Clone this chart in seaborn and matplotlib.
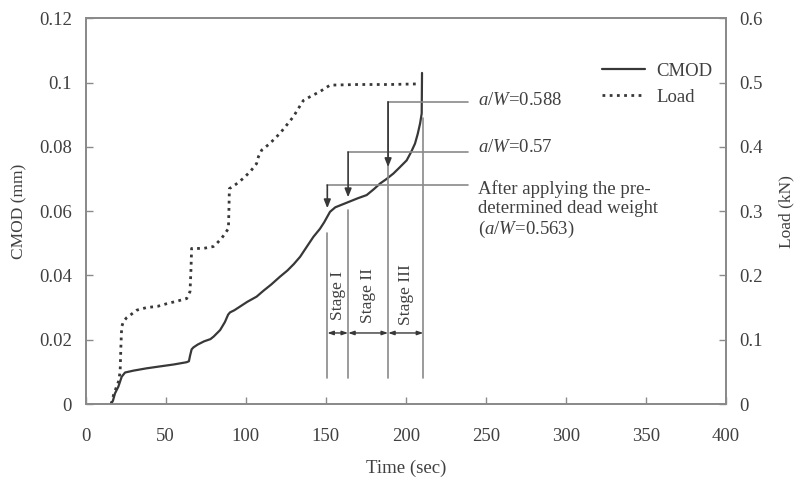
import numpy as np
import pandas as pd
import seaborn as sns
import matplotlib.pyplot as plt
from matplotlib.lines import Line2D

# CMOD curve (mm)
cmod_t = [15.5, 17, 18.3, 20.4, 21.5, 22.5, 24.6, 30, 38, 45, 55, 63, 64.5, 65.2, 66.2, 67.3,
          70, 74, 78, 80, 84, 87, 89, 90.2, 93, 97, 101, 106.8, 111, 116, 121.4, 126, 130,
          134, 138, 142.3, 146.4, 149, 152.7, 156, 160, 164, 170, 175.6, 180, 184, 188,
          192.3, 196, 200.6, 203.5, 205.8, 207.5, 209, 210, 210.2]
cmod_mm = [0, 0.001, 0.0033, 0.0054, 0.007, 0.0085, 0.0098, 0.0104, 0.0111, 0.0116, 0.0123,
           0.0130, 0.0133, 0.0150, 0.0170, 0.0176, 0.0185, 0.0195, 0.0202, 0.021, 0.023,
           0.0255, 0.0278, 0.0285, 0.0292, 0.0305, 0.0318, 0.0334, 0.0352, 0.0372, 0.0396,
           0.0415, 0.0435, 0.0458, 0.0488, 0.052, 0.0545, 0.0565, 0.0598, 0.0612, 0.062,
           0.0628, 0.0640, 0.0650, 0.0668, 0.0686, 0.070, 0.0717, 0.0735, 0.0758, 0.0785,
           0.081, 0.0840, 0.0873, 0.0904, 0.103]

# Load curve (kN)
load_t = [16, 17.5, 19, 20.5, 21.5, 22, 22.5, 23.5, 25.5, 27.7, 31.9, 38, 45, 50.6, 57, 63.1,
          65.2, 65.8, 66.2, 70, 73.5, 79.8, 82, 85, 87, 89.2, 89.5, 89.8, 94, 98.5, 103,
          106.8, 108, 110, 115, 121.4, 125, 129.8, 133, 136, 140.2, 146.4, 152.7, 170, 190, 209]
load_kn = [0, 0.015, 0.025, 0.035, 0.05, 0.09, 0.12, 0.128, 0.134, 0.138, 0.146, 0.150, 0.152,
           0.156, 0.160, 0.164, 0.175, 0.21, 0.242, 0.242, 0.242, 0.245, 0.25, 0.258, 0.265,
           0.273, 0.30, 0.335, 0.342, 0.351, 0.362, 0.374, 0.385, 0.395, 0.405, 0.421, 0.432,
           0.447, 0.46, 0.472, 0.478, 0.486, 0.496, 0.497, 0.497, 0.498]

# stage boundaries (sec) and annotation labels
stage_t = [151, 164, 189, 211]
stage_names = ['Stage I', 'Stage II', 'Stage III']
aw_labels = ['After applying the pre-\ndetermined dead weight\n($a/W$=0.563)',
             '$a/W$=0.57', '$a/W$=0.588']
aw_level = [0.0681, 0.0784, 0.094]      # height of the leader lines
aw_text_y = [0.0603, 0.0797, 0.0945]
aw_tip = [0.0609, 0.0643, 0.0737]       # arrow tips just above the curve
stage_top = [0.0531, 0.0603, 0.094, 0.089]

sns.set_style('white')
plt.rcParams['font.family'] = ['Liberation Serif', 'DejaVu Serif']
plt.rcParams['mathtext.fontset'] = 'custom'
plt.rcParams['mathtext.it'] = 'Liberation Serif:italic'
plt.rcParams['mathtext.rm'] = 'Liberation Serif'

txt = '#404040'
grey = '#8a8a8a'
ink = '#383838'

fig = plt.figure(figsize=(7.98, 4.8), dpi=100)
ax = fig.add_axes([0.1074, 0.1583, 0.802, 0.8036])
ax2 = ax.twinx()

df_c = pd.DataFrame({'t': cmod_t, 'v': cmod_mm})
df_l = pd.DataFrame({'t': load_t, 'v': load_kn})
sns.lineplot(data=df_c, x='t', y='v', ax=ax, estimator=None, sort=False,
             color=ink, lw=1.6)
sns.lineplot(data=df_l, x='t', y='v', ax=ax2, estimator=None, sort=False,
             color=ink, lw=2.0, linestyle=(0, (1, 1.6)))

ax.set_xlim(0, 400)
ax.set_ylim(0, 0.12)
ax2.set_ylim(0, 0.6)
ax.set_xticks(np.arange(0, 401, 50))
ax.set_yticks([0, 0.02, 0.04, 0.06, 0.08, 0.1, 0.12])
ax.set_yticklabels(['0', '0.02', '0.04', '0.06', '0.08', '0.1', '0.12'])
ax2.set_yticks([0, 0.1, 0.2, 0.3, 0.4, 0.5, 0.6])
ax2.set_yticklabels(['0', '0.1', '0.2', '0.3', '0.4', '0.5', '0.6'])

fs = 13.5
for a in (ax, ax2):
    for s in a.spines.values():
        s.set_color(grey)
        s.set_linewidth(1.3)
    a.tick_params(direction='in', length=5, width=1, color=grey,
                  labelsize=fs, labelcolor=txt, pad=10)
ax.tick_params(axis='y', left=True, right=False)
ax.tick_params(axis='x', bottom=True, pad=17)
ax2.tick_params(axis='y', right=True, left=False)

ax.set_xlabel('Time (sec)', fontsize=fs, color=txt, labelpad=11)
ax.set_ylabel('CMOD (mm)', fontsize=12.5, color=txt, labelpad=8)
ax2.set_ylabel('Load (kN)', fontsize=12.5, color=txt, labelpad=11)

# leader lines with arrows
x_end, x_txt = 239, 245
for st, lvl, ty, tip, lab in zip(stage_t[:3], aw_level, aw_text_y, aw_tip, aw_labels):
    ax.plot([st, x_end], [lvl, lvl], color=grey, lw=1.2)
    ax.annotate('', xy=(st, tip), xytext=(st, lvl),
                arrowprops=dict(arrowstyle='-|>,head_length=0.5,head_width=0.2',
                                color=ink, lw=1.2, shrinkA=0, shrinkB=0))
    ax.text(x_txt, ty, lab, fontsize=fs, color=txt, va='center',
            ha='left', linespacing=1.15)

# stage boundary lines
for st, top in zip(stage_t, stage_top):
    ax.plot([st, st], [0.008, top], color=grey, lw=1.2)

# double arrows and stage names
for i, name in enumerate(stage_names):
    a, b = stage_t[i], stage_t[i + 1]
    ax.annotate('', xy=(a, 0.0221), xytext=(b, 0.0221),
                arrowprops=dict(arrowstyle='<|-|>,head_length=0.35,head_width=0.12',
                                color=ink, lw=1.0, shrinkA=0, shrinkB=0))
    ax.text((a + b) / 2, 0.0339, name, rotation=90, ha='center', va='center',
            fontsize=12.5, color=txt)

handles = [Line2D([], [], color=ink, lw=1.6),
           Line2D([], [], color=ink, lw=2.0, linestyle=(0, (1, 1.6)))]
ax.legend(handles, ['CMOD', 'Load'], loc='upper right', bbox_to_anchor=(0.991, 0.904),
          frameon=False, fontsize=fs, handlelength=2.3, handletextpad=0.6,
          labelcolor=txt, borderaxespad=0, labelspacing=0.45)

fig.savefig('out.png', dpi=100)
